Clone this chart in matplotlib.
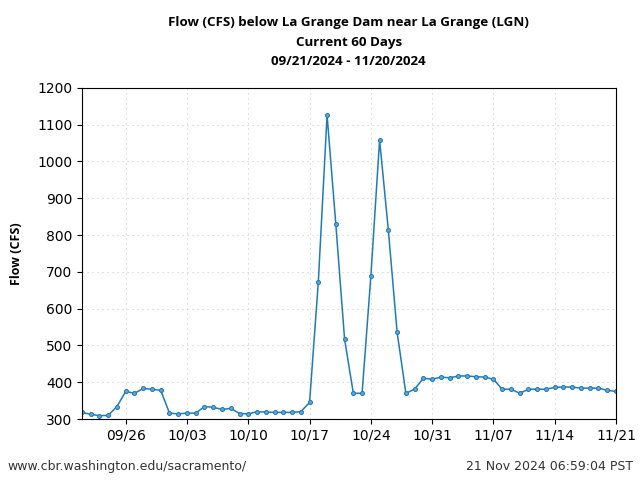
import matplotlib
matplotlib.use('Agg')
import matplotlib.pyplot as plt
import matplotlib.dates as mdates
import numpy as np
import pandas as pd

# daily flow at LGN
start_date = '2024-09-21'
end_date = '2024-11-21'
flow_cfs = [318, 313, 309, 310, 334, 375, 370, 383, 381, 378,
            316, 314, 316, 316, 334, 332, 326, 329, 315, 314,
            320, 319, 318, 318, 318, 320, 345, 672, 1126, 829,
            517, 370, 370, 688, 1058, 813, 536, 370, 381, 411,
            408, 414, 412, 417, 417, 415, 414, 408, 381, 381,
            370, 381, 381, 381, 386, 387, 387, 384, 384, 384,
            378, 375]
dates = pd.date_range(start_date, end_date, freq='D')

title_lines = ['Flow (CFS) below La Grange Dam near La Grange (LGN)',
               'Current 60 Days',
               '09/21/2024 - 11/20/2024']
footer_left = 'www.cbr.washington.edu/sacramento/'
footer_right = '21 Nov 2024 06:59:04 PST'

fig = plt.figure(figsize=(6.4, 4.8), dpi=100)
ax = fig.add_axes([0.128, 0.127, 0.8345, 0.69])

ax.plot(dates, flow_cfs, color='#1f7bb8', linewidth=1.1,
        marker='o', markersize=2.8, markerfacecolor='#6aaad8',
        markeredgecolor='#1f7bb8', markeredgewidth=0.8)

ax.set_xlim(pd.Timestamp(start_date), pd.Timestamp(end_date))
ax.set_ylim(300, 1200)
ax.set_yticks(np.arange(300, 1201, 100))
ax.xaxis.set_major_locator(mdates.WeekdayLocator(byweekday=mdates.TH))
ax.xaxis.set_major_formatter(mdates.DateFormatter('%m/%d'))
ax.tick_params(labelsize=10)
ax.grid(True, linestyle=(0, (1, 3.5)), color='#cccccc', linewidth=0.8)

ax.set_ylabel('Flow (CFS)', fontsize=9, fontweight='bold', family='Open Sans', labelpad=10)

for i, line in enumerate(title_lines):
    fig.text(0.545, 0.953 - i * 0.041, line, ha='center', va='center',
             fontsize=9.6, fontweight='bold', family='Open Sans')

fig.text(0.012, 0.029, footer_left, ha='left', va='center', fontsize=9, color='#333333')
fig.text(0.989, 0.029, footer_right, ha='right', va='center', fontsize=9, color='#333333')

fig.savefig('out.png', dpi=100)
